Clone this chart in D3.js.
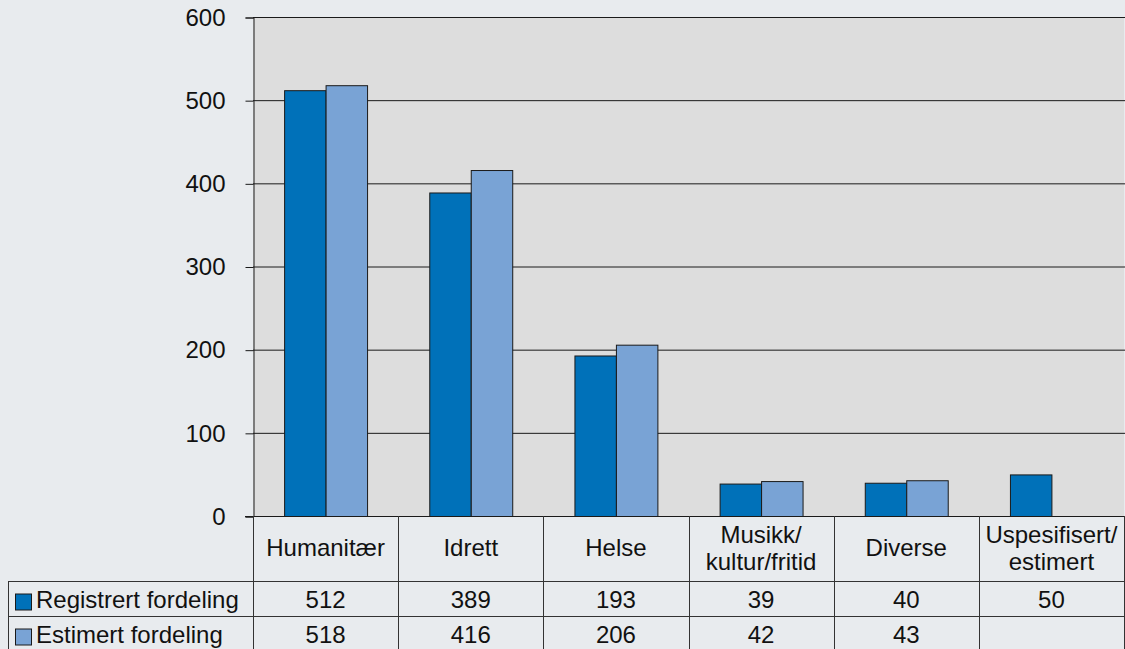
<!DOCTYPE html>
<html>
<head>
<meta charset="utf-8">
<script src="https://cdn.jsdelivr.net/npm/d3@7"></script>
<style>
  body { margin: 0; background: #e8ebee; }
  svg { display: block; font-family: "Liberation Sans", Arial, sans-serif; }
</style>
</head>
<body>
<div id="chart"></div>
<script>
// categories (header lines) and series values
const categories = ["Humanitær", "Idrett", "Helse", "Musikk/\nkultur/fritid", "Diverse", "Uspesifisert/\nestimert"];
const seriesNames = ["Registrert fordeling", "Estimert fordeling"];
const registrert = [512, 389, 193, 39, 40, 50];
const estimert = [518, 416, 206, 42, 43, null];
const yTicks = [0, 100, 200, 300, 400, 500, 600];

const colors = ["#0071b9", "#79a3d5"];
const W = 1125, H = 649;
const plot = { left: 253, right: 1124, top: 17, bottom: 516 };
const rows = { header: 581, r1: 616, r2: 651, left: 8 };
const fontSize = 24;

const svg = d3.select("#chart").append("svg")
  .attr("width", W)
  .attr("height", H);

svg.append("rect").attr("width", W).attr("height", H).attr("fill", "#e8ebee");

let x = d3.scaleBand()
  .domain(d3.range(categories.length))
  .range([plot.left, plot.right]);

let xs = d3.scaleBand()
  .domain([0, 1])
  .range([0, x.bandwidth()])
  .paddingOuter(0.75);

let y = d3.scaleLinear()
  .domain([0, 600])
  .range([plot.bottom, plot.top]);

// plot background
svg.append("rect")
  .attr("x", plot.left).attr("y", plot.top)
  .attr("width", plot.right - plot.left).attr("height", plot.bottom - plot.top)
  .attr("fill", "#dddddd");

// gridlines
svg.selectAll(".grid")
  .data(yTicks.filter(d => d > 0))
  .enter().append("line")
  .attr("x1", plot.left).attr("x2", W)
  .attr("y1", d => y(d) + 0.5).attr("y2", d => y(d) + 0.5)
  .attr("stroke", "#1a1a1a").attr("stroke-width", 1);

// y axis
let yAxis = svg.append("g")
  .attr("transform", "translate(" + (plot.left + 0.5) + ",0.5)")
  .call(d3.axisLeft(y).tickValues(yTicks).tickSize(8).tickPadding(20));
yAxis.select(".domain").attr("stroke", "#1a1a1a");
yAxis.selectAll(".tick line").attr("stroke", "#1a1a1a");
yAxis.selectAll(".tick text")
  .style("font-size", fontSize + "px")
  .attr("fill", "#111")
  .attr("font-family", "Liberation Sans, Arial, sans-serif");

// bars
const series = [registrert, estimert];
series.forEach((vals, s) => {
  svg.append("g").selectAll("rect")
    .data(vals.map((v, i) => ({ v, i })).filter(d => d.v != null))
    .enter().append("rect")
    .attr("x", d => x(d.i) + xs(s) + 0.5)
    .attr("y", d => y(d.v) + 0.5)
    .attr("width", xs.bandwidth())
    .attr("height", d => y(0) - y(d.v))
    .attr("fill", colors[s])
    .attr("stroke", "#1a1a1a")
    .attr("stroke-width", 1);
});

// x axis baseline
svg.append("line")
  .attr("x1", plot.left - 8).attr("x2", W)
  .attr("y1", plot.bottom + 0.5).attr("y2", plot.bottom + 0.5)
  .attr("stroke", "#1a1a1a");

// table lines
const lineColor = "#333";
[rows.header, rows.r1].forEach(yy => {
  svg.append("line")
    .attr("x1", rows.left).attr("x2", W)
    .attr("y1", yy + 0.5).attr("y2", yy + 0.5)
    .attr("stroke", lineColor);
});
svg.append("line")
  .attr("x1", rows.left + 0.5).attr("x2", rows.left + 0.5)
  .attr("y1", rows.header).attr("y2", H)
  .attr("stroke", lineColor);
svg.append("line")
  .attr("x1", plot.left + 0.5).attr("x2", plot.left + 0.5)
  .attr("y1", plot.bottom).attr("y2", H)
  .attr("stroke", lineColor);
svg.selectAll(".colline")
  .data(d3.range(1, categories.length + 1))
  .enter().append("line")
  .attr("x1", i => Math.round(i < categories.length ? x(i) : plot.right) + 0.5)
  .attr("x2", i => Math.round(i < categories.length ? x(i) : plot.right) + 0.5)
  .attr("y1", plot.bottom).attr("y2", H)
  .attr("stroke", lineColor);

// header labels
categories.forEach((c, i) => {
  const lines = c.split("\n");
  const cx = x(i) + x.bandwidth() / 2;
  const cy = (plot.bottom + rows.header) / 2;
  const t = svg.append("text")
    .attr("text-anchor", "middle")
    .attr("font-size", fontSize)
    .attr("fill", "#111");
  lines.forEach((ln, k) => {
    t.append("tspan")
      .attr("x", cx)
      .attr("y", cy + 7.5 + (k - (lines.length - 1) / 2) * 27)
      .text(ln);
  });
});

// data rows
const rowY = [(rows.header + rows.r1) / 2, (rows.r1 + rows.r2) / 2];
series.forEach((vals, s) => {
  svg.append("rect")
    .attr("x", 15.5).attr("y", rowY[s] - 4.5)
    .attr("width", 16).attr("height", 16)
    .attr("fill", colors[s])
    .attr("stroke", "#1a1a1a");
  svg.append("text")
    .attr("x", 36).attr("y", rowY[s] + 9.5)
    .attr("font-size", fontSize)
    .attr("fill", "#111")
    .text(seriesNames[s]);
  svg.append("g").selectAll("text")
    .data(vals.map((v, i) => ({ v, i })).filter(d => d.v != null))
    .enter().append("text")
    .attr("x", d => x(d.i) + x.bandwidth() / 2)
    .attr("y", rowY[s] + 9.5)
    .attr("text-anchor", "middle")
    .attr("font-size", fontSize)
    .attr("fill", "#111")
    .text(d => d.v);
});
</script>
</body>
</html>
